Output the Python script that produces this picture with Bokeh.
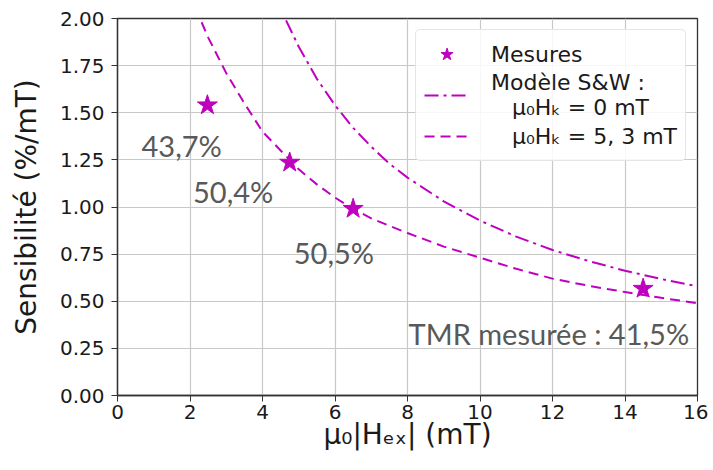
from bokeh.plotting import figure
from bokeh.models import Legend, LegendItem, Range1d, FixedTicker, NumeralTickFormatter, ColumnDataSource
from bokeh.embed import file_html
from bokeh.resources import INLINE
from bokeh.core.properties import value

# --- data ---
meas_h = [2.48, 4.75, 6.5, 14.5]
meas_s = [1.54, 1.236, 0.991, 0.567]

sw0_h = [4.65, 5.0, 5.5, 6.0, 6.5, 7.0, 7.5, 8.0, 9.0, 10.0, 11.0, 12.0, 13.0, 14.0, 15.0, 16.0]
sw0_s = [1.99, 1.85, 1.68, 1.54, 1.42, 1.32, 1.23, 1.156, 1.03, 0.928, 0.843, 0.772, 0.713, 0.662, 0.618, 0.579]

sw53_h = [2.32, 2.5, 3.0, 3.5, 4.0, 4.5, 5.0, 5.5, 6.0, 6.5, 7.0, 7.5, 8.0, 9.0, 10.0, 11.0, 12.0, 13.0, 14.0, 15.0, 16.0]
sw53_s = [1.98, 1.90, 1.71, 1.55, 1.40, 1.30, 1.20, 1.12, 1.05, 0.99, 0.94, 0.90, 0.862, 0.79, 0.731, 0.672, 0.62, 0.582, 0.549, 0.518, 0.49]

ann_text = ["43,7%", "50,4%", "50,5%", "TMR mesurée : 41,5%"]
ann_h = [1.77, 3.19, 5.97, 11.9]
ann_s = [1.328, 1.083, 0.760, 0.330]

x_ticks = [0, 2, 4, 6, 8, 10, 12, 14, 16]
y_ticks = [0.0, 0.25, 0.5, 0.75, 1.0, 1.25, 1.5, 1.75, 2.0]

x_title = "μ₀|Hₑₓ| (mT)"
y_title = "Sensibilité (%/mT)"

MAG = "#bf00bf"
TICK_FONT = "DejaVu Sans"

p = figure(width=708, height=462, output_backend="svg", toolbar_location=None,
           x_range=Range1d(0, 16), y_range=Range1d(0, 2),
           min_border_left=117, min_border_right=11, min_border_top=18, min_border_bottom=67)

p.outline_line_color = "#333333"
p.outline_line_width = 1.3
p.background_fill_color = "white"
p.border_fill_color = "white"

for ax in (p.xaxis[0], p.yaxis[0]):
    ax.axis_line_color = "#333333"
    ax.axis_line_width = 1.3
    ax.major_tick_line_color = "#333333"
    ax.major_tick_out = 6
    ax.major_tick_in = 0
    ax.minor_tick_line_color = None
    ax.major_label_text_font = TICK_FONT
    ax.major_label_text_font_size = "20px"
    ax.major_label_text_color = "#1a1a1a"
    ax.axis_label_text_font = TICK_FONT
    ax.axis_label_text_font_style = "normal"
    ax.axis_label_text_color = "#1a1a1a"

p.xaxis.ticker = FixedTicker(ticks=x_ticks)
p.yaxis.ticker = FixedTicker(ticks=y_ticks)
p.yaxis.formatter = NumeralTickFormatter(format="0.00")
p.yaxis.axis_label = y_title
p.yaxis.axis_label_text_font_size = "28px"
p.yaxis.axis_label_standoff = 14
p.yaxis.major_label_standoff = 7
p.xaxis.axis_label = x_title
p.xaxis.axis_label_text_font_size = "28px"
p.xaxis.axis_label_standoff = -4
p.xaxis.major_label_standoff = 3

p.xgrid.ticker = FixedTicker(ticks=x_ticks)
p.ygrid.ticker = FixedTicker(ticks=y_ticks)
p.grid.grid_line_color = "#c8c8c8"
p.grid.grid_line_width = 1.2

r_dd = p.line(sw0_h, sw0_s, line_color=MAG, line_width=2, line_dash="14 5 3 5")
r_d = p.line(sw53_h, sw53_s, line_color=MAG, line_width=2, line_dash="10 6")
r_m = p.scatter(meas_h, meas_s, marker="star", size=21, fill_color=MAG, line_color=MAG)

src = ColumnDataSource(dict(x=ann_h, y=ann_s, t=ann_text))
p.text(x="x", y="y", text="t", source=src, text_font=value("Lato"), text_font_size="29px",
       text_color="#595959", text_align="center", text_baseline="middle")

nb = "\u00a0"
legend = Legend(items=[
    LegendItem(label="Mesures", renderers=[r_m]),
    LegendItem(label="Modèle S&W :\n" + nb * 3 + "μ₀Hₖ = 0 mT", renderers=[r_dd]),
    LegendItem(label=nb * 3 + "μ₀Hₖ = 5, 3 mT", renderers=[r_d]),
], location="top_right")
legend.label_text_font = TICK_FONT
legend.label_text_font_size = "22px"
legend.label_text_color = "#1a1a1a"
legend.glyph_width = 45
legend.glyph_height = 32
legend.label_standoff = 22
legend.spacing = 0
legend.padding = 8
legend.margin = 11
legend.border_line_color = "#cccccc"
legend.border_line_width = 1.2
legend.border_radius = 5
legend.background_fill_alpha = 0.85
p.add_layout(legend)

open("out.html", "w").write(file_html(p, INLINE))
